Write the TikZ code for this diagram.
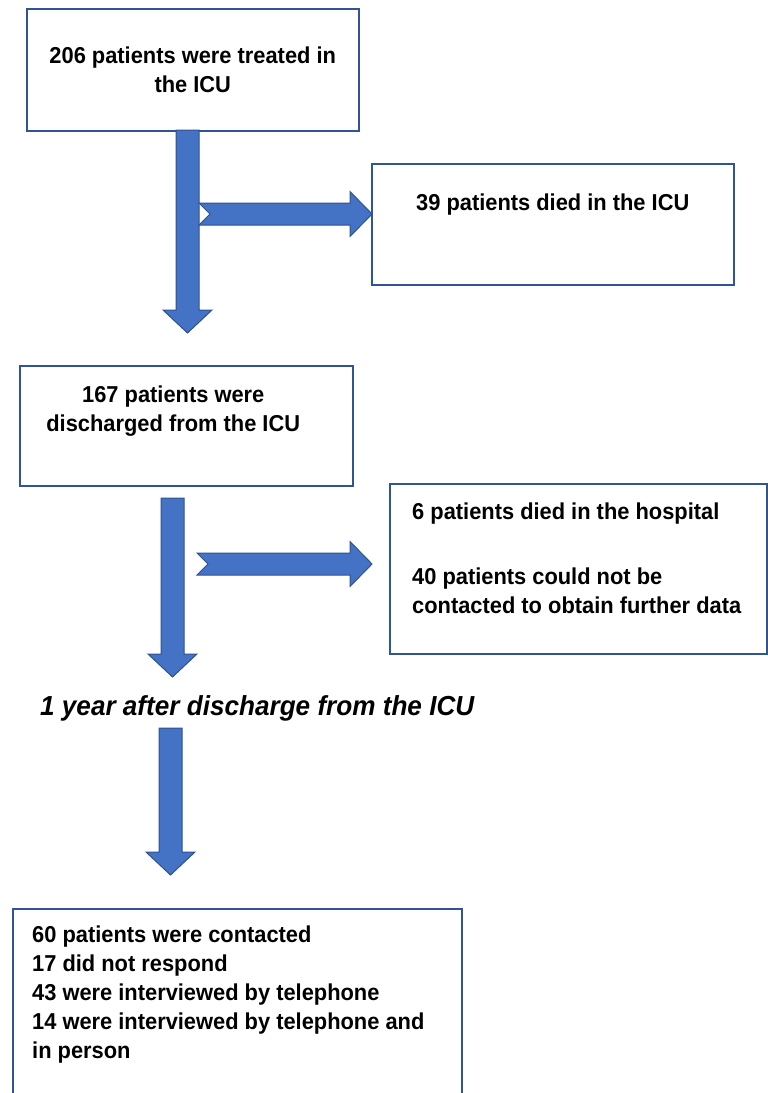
\documentclass[tikz,border=0pt]{standalone}
\usepackage{fontspec}
\setmainfont{Liberation Sans}[FakeStretch=0.95]
\usetikzlibrary{positioning}

\definecolor{boxline}{HTML}{2F5597}
\definecolor{arrowfill}{HTML}{4472C4}
\definecolor{arrowline}{HTML}{2F528F}

\tikzset{
    flowbox/.style={draw=boxline, line width=1.5pt, inner sep=0pt, anchor=north west},
    flowtext/.style={font=\bfseries\fontsize{23}{29}\selectfont, inner sep=0pt, anchor=north},
    blockarrow/.style={fill=arrowfill, draw=arrowline, line width=1pt, line join=miter}
}

% block arrow pointing down: centre x, top y, tip y
\newcommand{\downblock}[3]{
    \filldraw[blockarrow] (#1-11.5,#2) -- (#1+11.5,#2) -- (#1+11.5,#3-23) -- (#1+24.5,#3-23)
        -- (#1,#3) -- (#1-24.5,#3-23) -- (#1-11.5,#3-23) -- cycle;
}
% notched block arrow pointing right: left x, centre y, tip x
\newcommand{\rightblock}[3]{
    \filldraw[blockarrow] (#1,#2-11) -- (#3-22,#2-11) -- (#3-22,#2-22.5) -- (#3,#2)
        -- (#3-22,#2+22.5) -- (#3-22,#2+11) -- (#1,#2+11) -- (#1+11,#2) -- cycle;
}

\begin{document}
\begin{tikzpicture}[x=1pt, y=-1pt]

\useasboundingbox (0,0) rectangle (768,1093);

% boxes
\node[flowbox, minimum width=332pt, minimum height=122pt] (treated) at (26,8) {};
\node[flowbox, minimum width=362pt, minimum height=121pt] (diedicu) at (371,163) {};
\node[flowbox, minimum width=333pt, minimum height=120pt] (discharged) at (19,365) {};
\node[flowbox, minimum width=377pt, minimum height=170pt] (lost) at (389,483) {};
\node[flowbox, minimum width=449pt, minimum height=192pt] (followup) at (12,908) {};

% arrows
\downblock{187.5}{130}{333}
\rightblock{199}{214}{372}
\downblock{172.5}{498}{677}
\rightblock{197}{564}{372}
\downblock{170.5}{728}{875}

% texts
\node[flowtext, align=center, below=39pt of treated.north] (treatedtxt)
    {206 patients were treated in\\the ICU};
\node[flowtext, below=31pt of diedicu.north] (diedicutxt)
    {39 patients died in the ICU};
\node[flowtext, align=center, below=21pt of discharged.north, xshift=-13pt] (dischargedtxt)
    {167 patients were\\discharged from the ICU};
\node[flowtext, align=left, anchor=north west, below right=20pt and 23pt of lost.north west] (losttxt)
    {6 patients died in the hospital\\[36pt]40 patients could not be\\contacted to obtain further data};
\node[font=\bfseries\itshape\fontsize{27.5}{33}\selectfont, inner sep=0pt, anchor=base west] (oneyear)
    at (40,715) {1 year after discharge from the ICU};
\node[flowtext, align=left, anchor=north west, below right=18pt and 20pt of followup.north west] (followuptxt)
    {60 patients were contacted\\17 did not respond\\43 were interviewed by telephone\\14 were interviewed by telephone and\\in person};

\end{tikzpicture}
\end{document}
